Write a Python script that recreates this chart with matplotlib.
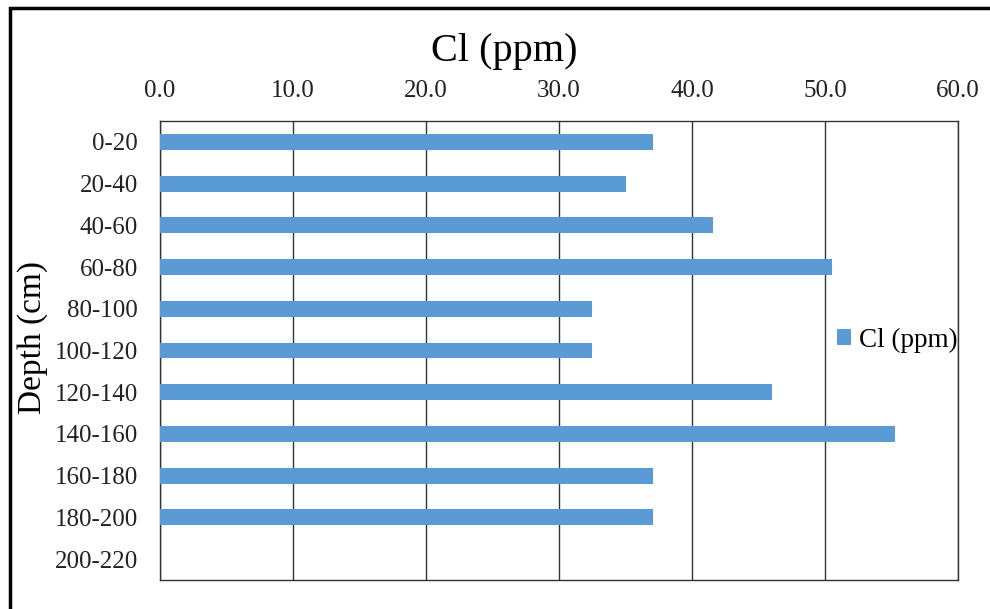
import matplotlib
matplotlib.use("Agg")
import matplotlib.pyplot as plt
from matplotlib.patches import Rectangle

categories = ["0-20", "20-40", "40-60", "60-80", "80-100", "100-120",
              "120-140", "140-160", "160-180", "180-200", "200-220"]
values = [37.1, 35.0, 41.6, 50.5, 32.5, 32.5, 46.0, 55.3, 37.1, 37.1, None]
xticks = [0, 10, 20, 30, 40, 50, 60]

plt.rcParams['font.family'] = ['Liberation Serif', 'DejaVu Serif']

fig = plt.figure(figsize=(9.9, 6.09), dpi=100)
ax = fig.add_axes([160/990, 1-580/609, (958-160)/990, (580-121)/609])

ypos = list(range(len(categories)))
vals = [v if v is not None else 0 for v in values]
bars = ax.barh(ypos, vals, height=0.38, color="#5B9BD5", label="Cl (ppm)", zorder=3)
ax.set_ylim(len(categories)-0.5, -0.5)
ax.set_xlim(0, 60)
ax.set_yticks(ypos)
ax.set_yticklabels(categories, fontsize=18)
ax.set_xticks(xticks)
ax.set_xticklabels([f"{t:.1f}" for t in xticks], fontsize=18)
ax.xaxis.tick_top()
ax.tick_params(axis='y', length=0, pad=16, colors="#222222")
ax.tick_params(axis='x', length=0, pad=14, colors="#222222")
ax.xaxis.grid(True, color="#333333", linewidth=1.0, zorder=0)
for s in ax.spines.values():
    s.set_color("#333333")
    s.set_linewidth(1.0)

fig.text(33/990, 1-337/609, "Depth (cm)", fontsize=24, rotation=90, ha='center', va='center')
fig.text(504/990, 1-52/609, "Cl (ppm)", fontsize=29, ha='center', va='center')

leg = fig.legend(handles=[bars], labels=["Cl (ppm)"], loc='center left',
                 bbox_to_anchor=(813/990, 1-340/609), frameon=False, fontsize=19.5,
                 handlelength=0.5, handleheight=0.5, handletextpad=0.3)

fig.patches.append(Rectangle((10/990, -0.05), 1.2, 1-8/609+0.05, transform=fig.transFigure,
                             fill=False, edgecolor='black', linewidth=2.5))

fig.savefig("out.png", dpi=100)
